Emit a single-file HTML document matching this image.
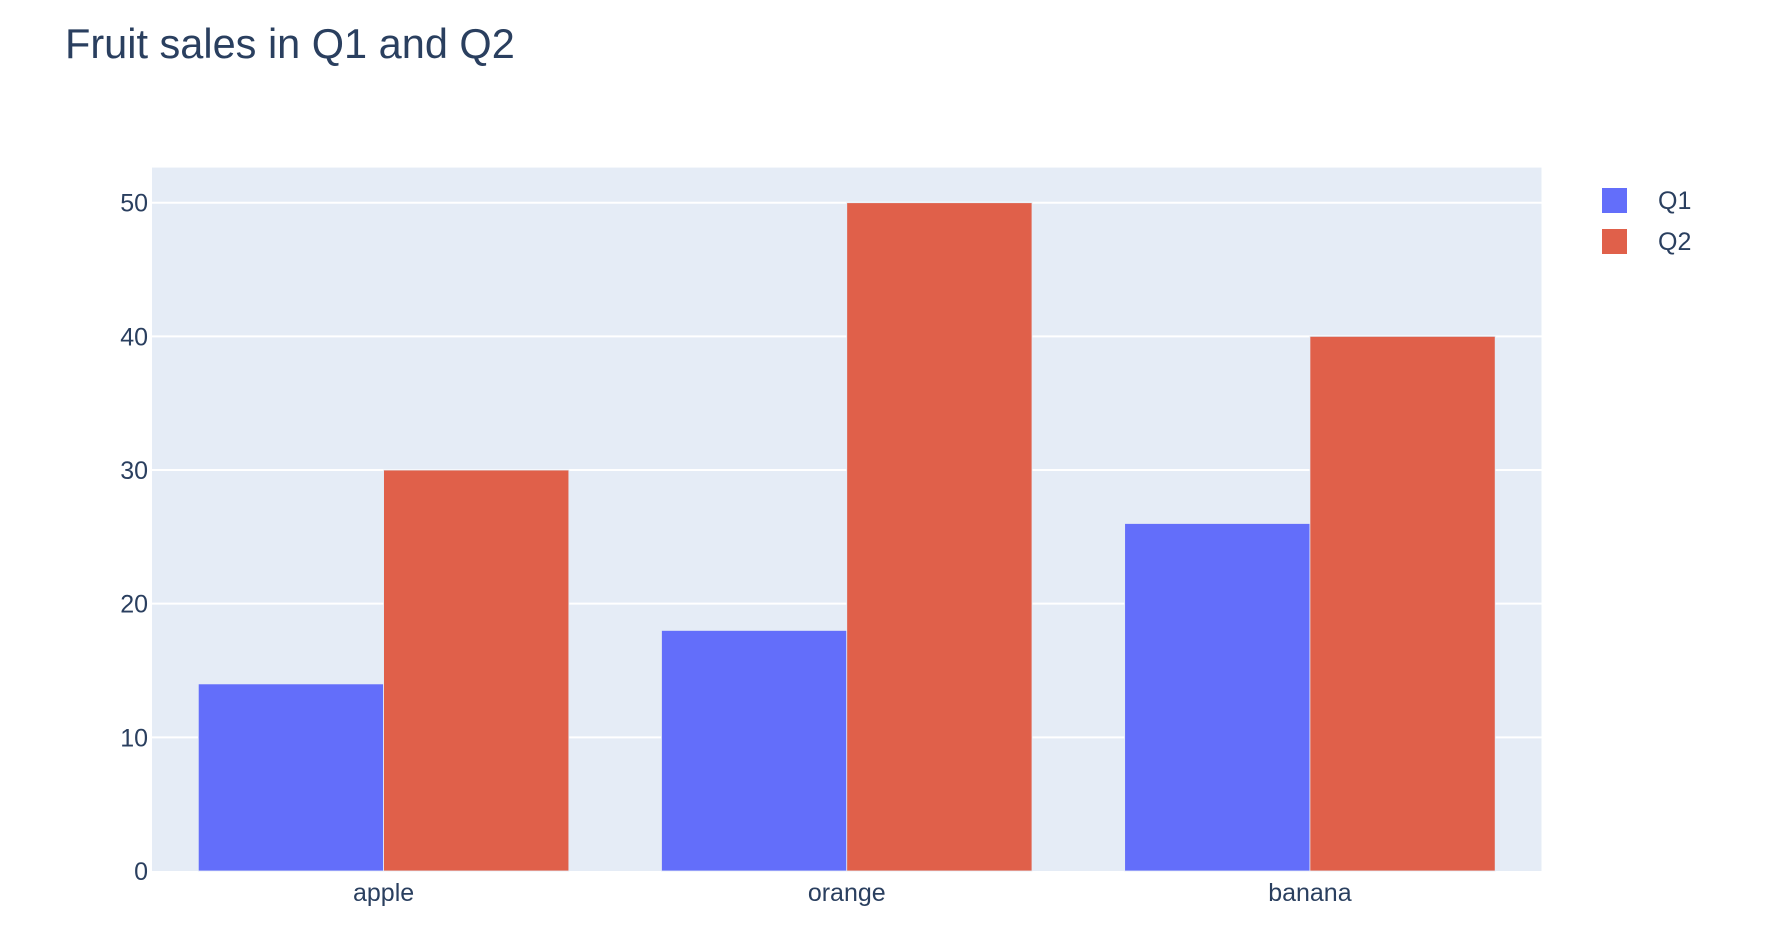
<!DOCTYPE html>
<html><head><meta charset="utf-8"><style>
html,body{margin:0;padding:0;background:#fff;}
svg{display:block;font-family:"Liberation Sans",Arial,sans-serif;}
</style></head><body>
<svg id="chart" width="1776" height="932" viewBox="0 0 1776 932">
<rect x="0" y="0" width="1776" height="932" fill="#fff"/>
<text x="65" y="58" font-size="41.5" fill="#2a3f5f">Fruit sales in Q1 and Q2</text>
<rect x="152" y="167.6" width="1389.5" height="703.4" fill="#e5ecf6"/>
<g id="grid"></g>
<g id="bars"></g>
<g id="labels"></g>
<g>
<rect x="1602" y="188" width="25" height="25" fill="#636efa"/>
<text x="1658" y="209" font-size="25" fill="#2a3f5f">Q1</text>
<rect x="1602" y="229" width="25" height="25" fill="#e0604a"/>
<text x="1658" y="250" font-size="25" fill="#2a3f5f">Q2</text>
</g>
</svg>
<script>
const categories = ["apple","orange","banana"];
const q1Values = [14,18,26];
const q2Values = [30,50,40];
const yTicks = [0,10,20,30,40,50];
const seriesNames = ["Q1","Q2"];
const colors = ["#636efa","#e0604a"];

(function(){
const NS="http://www.w3.org/2000/svg";
const pLeft=152,pRight=1541.5,pTop=167.6,pBottom=871;
const yMax=50*(pBottom-pTop)/(pBottom-202.7);
const y=v=>pBottom-(v/yMax)*(pBottom-pTop);
const band=(pRight-pLeft)/categories.length;
const x=i=>pLeft+band*i;
const grid=document.getElementById('grid'),bars=document.getElementById('bars'),labels=document.getElementById('labels');
function mk(tag,attrs,parent){const e=document.createElementNS(NS,tag);for(const k in attrs)e.setAttribute(k,attrs[k]);parent.appendChild(e);return e;}
yTicks.forEach(t=>{
  if(t>0){const l=mk('line',{x1:pLeft,x2:pRight,y1:y(t),y2:y(t),stroke:'#fff','stroke-width':2},grid);
  
  }
  const tx=mk('text',{x:148,y:y(t)+9,'font-size':25,fill:'#2a3f5f','text-anchor':'end'},labels);
  tx.textContent=t;
  
  
});
const series=[q1Values,q2Values];
const groupW=band*0.8,barW=groupW/2;
categories.forEach((c,i)=>{
  series.forEach((vals,s)=>{
    const bx=x(i)+band*0.1+barW*s;
    const r=mk('rect',{x:bx,y:y(vals[i]),width:barW,height:pBottom-y(vals[i]),fill:colors[s],stroke:'#e5ecf6','stroke-width':0.8},bars);
    
    
  });
  const t=mk('text',{x:x(i)+band/2,y:901,'font-size':25,fill:'#2a3f5f','text-anchor':'middle'},labels);
  t.textContent=c;
  
  
});
})();
</script>
</body></html>
